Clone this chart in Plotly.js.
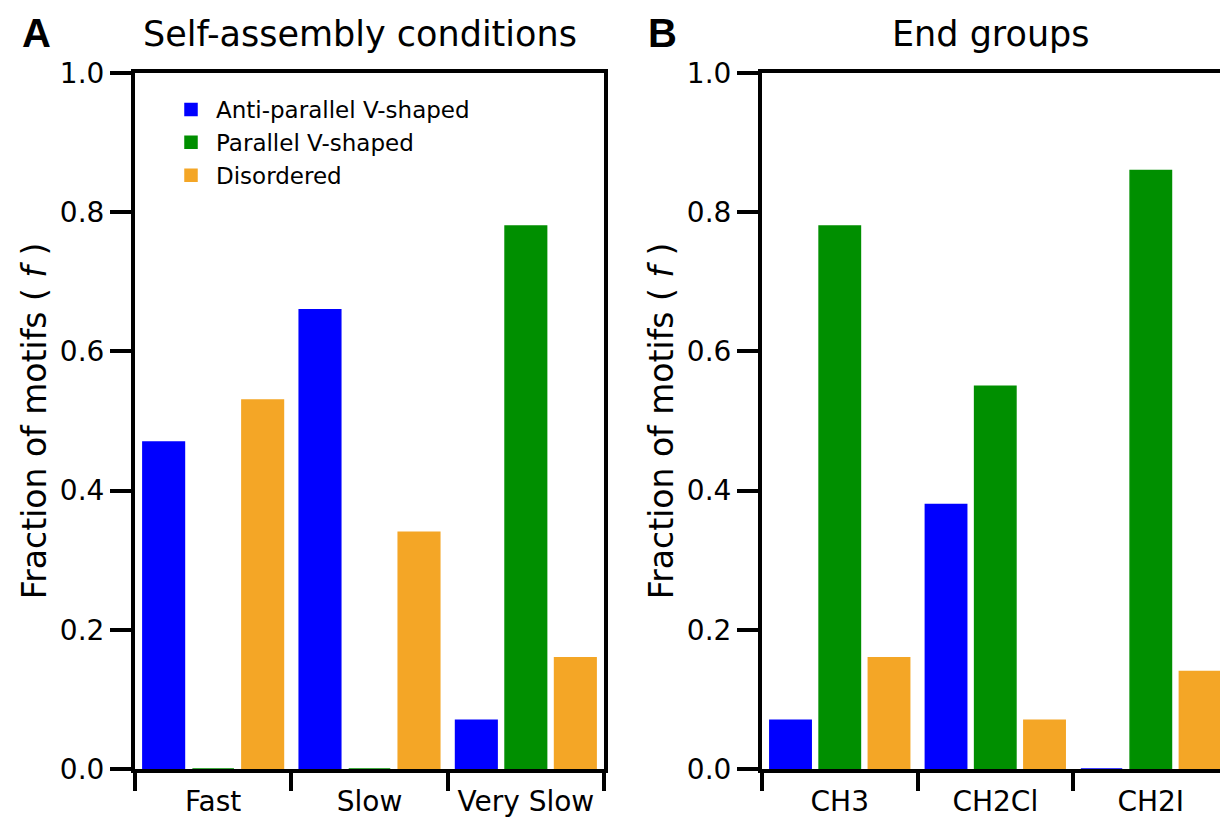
<!DOCTYPE html>
<html>
<head>
<meta charset="utf-8">
<script src="https://cdn.plot.ly/plotly-3.0.1.min.js"></script>
<style>html,body{margin:0;padding:0;background:#fff;}#chart{width:1220px;height:819px;}</style>
</head>
<body>
<div id="chart"></div>
<script>
// ---- data ----
const conditions = ["Fast", "Slow", "Very Slow"];
const endGroups = ["CH3", "CH2Cl", "CH2I"];
const seriesNames = ["Anti-parallel V-shaped", "Parallel V-shaped", "Disordered"];
const antiParallelA = [0.47, 0.66, 0.07];
const parallelA = [0.00, 0.00, 0.78];
const disorderedA = [0.53, 0.34, 0.16];
const antiParallelB = [0.07, 0.38, 0.00];
const parallelB = [0.78, 0.55, 0.86];
const disorderedB = [0.16, 0.07, 0.14];
const yTicks = [0, 0.2, 0.4, 0.6, 0.8, 1.0];
const yTickText = ["0.0", "0.2", "0.4", "0.6", "0.8", "1.0"];

const colors = ["#0000ff", "#008f00", "#f4a626"];
const FONT = "DejaVu Sans, sans-serif";
const W = 1220, H = 819;
const px = v => v / W;
const py = v => 1 - v / H;

function bar(x, y, i, xa, ya, show) {
  return {
    type: "bar", x: x, y: y, name: seriesNames[i],
    xaxis: xa, yaxis: ya, showlegend: show,
    marker: {color: colors[i], line: {color: colors[i], width: 1.5}},
    hoverinfo: "x+y"
  };
}

const traces = [
  bar(conditions, antiParallelA, 0, "x", "y", true),
  bar(conditions, parallelA, 1, "x", "y", true),
  bar(conditions, disorderedA, 2, "x", "y", true),
  bar(endGroups, antiParallelB, 0, "x2", "y2", false),
  bar(endGroups, parallelB, 1, "x2", "y2", false),
  bar(endGroups, disorderedB, 2, "x2", "y2", false)
];

const yDomain = [py(769), py(73)];
function xAxis(domain, range, anchor) {
  return {
    domain: domain, range: range, anchor: anchor, type: "category",
    showline: true, linecolor: "#000", linewidth: 4, mirror: true,
    ticks: "outside", tickson: "boundaries", ticklen: 18, tickwidth: 4, tickcolor: "#000",
    ticklabelstandoff: 4,
    tickfont: {family: FONT, size: 28, color: "#000"},
    showgrid: false, zeroline: false, layer: "below traces", fixedrange: true
  };
}
function yAxis(anchor, mirror) {
  return {
    domain: yDomain, range: [0, 1], anchor: anchor,
    showline: true, linecolor: "#000", linewidth: 4, mirror: mirror,
    ticks: "outside", ticklen: 21, tickwidth: 4, tickcolor: "#000",
    tickvals: yTicks, ticktext: yTickText,
    tickfont: {family: FONT, size: 28, color: "#000"},
    title: {text: "Fraction of motifs ( <i>f</i> )", font: {family: FONT, size: 33, color: "#000"}, standoff: 4},
    showgrid: false, zeroline: false, layer: "below traces", fixedrange: true
  };
}

const layout = {
  width: W, height: H,
  margin: {l: 0, r: 0, t: 0, b: 0, autoexpand: false},
  paper_bgcolor: "#fff", plot_bgcolor: "#fff",
  barmode: "group", bargap: 0.05, bargroupgap: 0.16,
  xaxis: xAxis([px(135), px(604)], [-0.5, 2.5], "y"),
  yaxis: yAxis("x", true),
  xaxis2: xAxis([px(762), 1], [-0.5, 2.445], "y2"),
  yaxis2: yAxis("x2", false),
  showlegend: true,
  legend: {
    x: px(166), y: py(88), xanchor: "left", yanchor: "top",
    bgcolor: "rgba(0,0,0,0)", borderwidth: 0,
    font: {family: FONT, size: 23, color: "#000"},
    itemwidth: 40, tracegroupgap: 0
  },
  annotations: [
    {text: "Self-assembly conditions", x: px(360), y: py(34), xref: "paper", yref: "paper", showarrow: false, xanchor: "center", yanchor: "middle", font: {family: FONT, size: 35, color: "#000"}},
    {text: "End groups", x: px(991), y: py(34), xref: "paper", yref: "paper", showarrow: false, xanchor: "center", yanchor: "middle", font: {family: FONT, size: 35, color: "#000"}},
    {text: "<b>A</b>", x: px(20), y: py(33), xref: "paper", yref: "paper", showarrow: false, xanchor: "left", yanchor: "middle", font: {family: "Liberation Sans, Arial, sans-serif", size: 40, color: "#000"}},
    {text: "<b>B</b>", x: px(646), y: py(33), xref: "paper", yref: "paper", showarrow: false, xanchor: "left", yanchor: "middle", font: {family: "Liberation Sans, Arial, sans-serif", size: 40, color: "#000"}}
  ]
};

Plotly.newPlot("chart", traces, layout, {displayModeBar: false, staticPlot: true});
</script>
</body>
</html>
